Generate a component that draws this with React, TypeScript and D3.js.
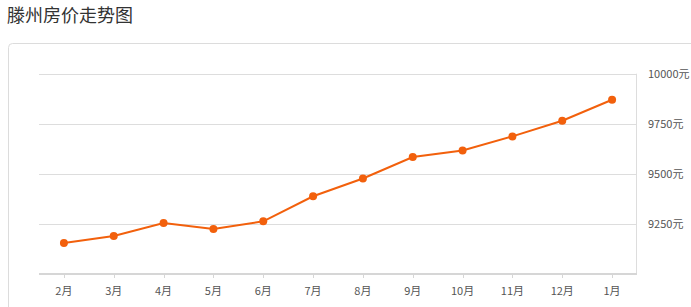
import React from "react";
import * as d3 from "d3";

const months = ["2月", "3月", "4月", "5月", "6月", "7月", "8月", "9月", "10月", "11月", "12月", "1月"];
const prices = [9155, 9190, 9255, 9225, 9263, 9388, 9477, 9584, 9617, 9687, 9765, 9870];
const yTicks = [9250, 9500, 9750, 10000];
const title = "滕州房价走势图";

const W = 691;
const H = 307;
const left = 39;
const right = 637;
const top = 73.7;
const bottom = 274;
const font = "'Noto Sans CJK SC', 'Noto Sans', sans-serif";

export default function App() {
  const x = d3.scaleBand<string>().domain(months).range([left, right]);
  const y = d3.scaleLinear().domain([9000, 10000]).range([bottom, top]);
  const line = d3
    .line<number>()
    .x((_, i) => (x(months[i]) as number) + x.bandwidth() / 2)
    .y((d) => y(d));
  const cx = (m: string) => (x(m) as number) + x.bandwidth() / 2;

  return (
    <svg
      width={W}
      height={H}
      style={{ position: "absolute", left: 0, top: 0, background: "#fff" }}
    >
      <text x={7} y={22} fontFamily={font} fontSize={18} fill="#333">
        {title}
      </text>
      <rect x={8.5} y={43.5} width={W + 10} height={H} rx={4} fill="#fff" stroke="#dcdcdc" />
      {yTicks.map((t) => (
        <g key={t}>
          <line x1={left} x2={right} y1={Math.round(y(t)) + 0.5} y2={Math.round(y(t)) + 0.5} stroke="#ddd" />
          <text x={648} y={y(t) + 4} fontFamily={font} fontSize={11} fill="#555">
            {t + "元"}
          </text>
        </g>
      ))}
      <line x1={right - 0.5} x2={right - 0.5} y1={top} y2={bottom} stroke="#ddd" />
      <line x1={left} x2={right} y1={bottom} y2={bottom} stroke="#d6d6d6" strokeWidth={2} />
      {months.map((m) => (
        <g key={m}>
          <line x1={Math.round(cx(m)) + 0.5} x2={Math.round(cx(m)) + 0.5} y1={bottom} y2={bottom + 4} stroke="#d6d6d6" />
          <text x={cx(m)} y={295} textAnchor="middle" fontFamily={font} fontSize={11} fill="#555">
            {m}
          </text>
        </g>
      ))}
      <path d={line(prices) as string} fill="none" stroke="#f2600c" strokeWidth={2} />
      {prices.map((p, i) => (
        <circle key={i} cx={cx(months[i])} cy={y(p)} r={4} fill="#f2600c" />
      ))}
    </svg>
  );
}
